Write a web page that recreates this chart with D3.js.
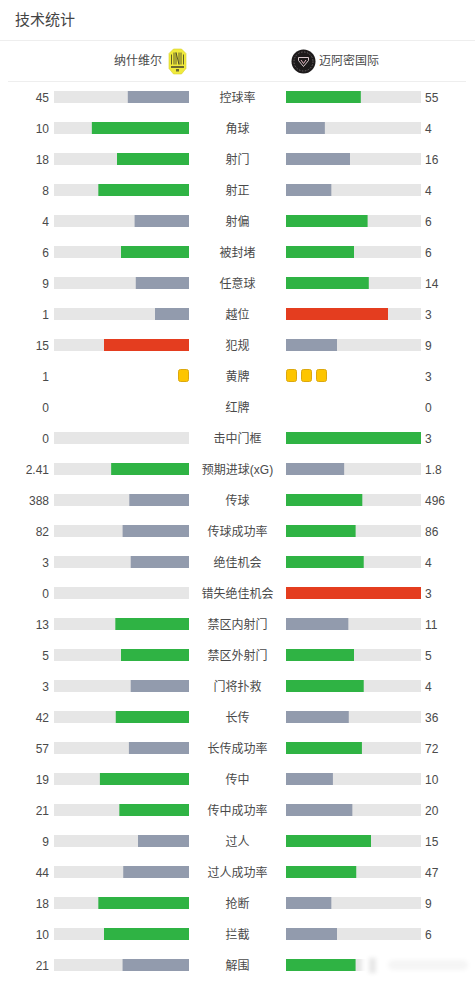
<!DOCTYPE html>
<html><head><meta charset="utf-8">
<script src="https://cdn.jsdelivr.net/npm/d3@7/dist/d3.min.js"></script>
<style>
html,body{margin:0;padding:0;background:#fff;overflow:hidden}
text{font-family:"Liberation Sans","Noto Sans CJK SC",sans-serif}
</style></head><body>
<svg id="c" width="475" height="981"></svg>
<script>
const title = "技术统计";
const homeName = "纳什维尔";
const awayName = "迈阿密国际";
const categories = ["控球率","角球","射门","射正","射偏","被封堵","任意球","越位","犯规","黄牌","红牌","击中门框","预期进球(xG)","传球","传球成功率","绝佳机会","错失绝佳机会","禁区内射门","禁区外射门","门将扑救","长传","长传成功率","传中","传中成功率","过人","过人成功率","抢断","拦截","解围"];
const homeValues = [45,10,18,8,4,6,9,1,15,1,0,0,2.41,388,82,3,0,13,5,3,42,57,19,21,9,44,18,10,21];
const awayValues = [55,4,16,4,6,6,14,3,9,3,0,3,1.8,496,86,4,3,11,5,4,36,72,10,20,15,47,9,6,22];
const negativeStats = ["越位","犯规","错失绝佳机会"];
const cardStats = ["黄牌","红牌"];

const svg = d3.select("#c");
const GREEN="#2fb344", GREY="#929bad", RED="#e43d1f", TRACK="#e6e6e6", TXT="#4a4a4a";

svg.append("text").attr("x",15).attr("y",25).attr("font-size",15).attr("fill","#444").text(title);
svg.append("line").attr("x1",0).attr("x2",475).attr("y1",40.5).attr("y2",40.5).attr("stroke","#eeeeee");
svg.append("line").attr("x1",8).attr("x2",466).attr("y1",81.5).attr("y2",81.5).attr("stroke","#eeeeee");

svg.append("text").attr("x",162).attr("y",65).attr("text-anchor","end").attr("font-size",12).attr("fill",TXT).text(homeName);
svg.append("text").attr("x",319).attr("y",65).attr("font-size",12).attr("fill",TXT).text(awayName);

// crests
const h = svg.append("g").attr("transform","translate(177.5,61.5)");
h.append("path").attr("d","M-4,-12.5 L4,-12.5 L8.5,-8 L8.5,7 L4,12.5 L-4,12.5 L-8.5,7 L-8.5,-8 Z").attr("fill","#f0ea3c").attr("stroke","#d6d02e").attr("stroke-width",.6);
h.append("path").attr("d","M-6,-7 V3 M-3.5,-9 V3 M-1.5,-9 V3 M1.5,-9 V3 M3.5,-9 V3 M6,-7 V3 M-1.5,-9 L1.5,3").attr("stroke","#3a3a24").attr("stroke-width",.8).attr("fill","none");
h.append("rect").attr("x",-6.5).attr("y",4.5).attr("width",13).attr("height",2).attr("fill","#6a6830");
h.append("rect").attr("x",-1.5).attr("y",7.5).attr("width",3).attr("height",2.5).attr("fill","#6a6830");
const a = svg.append("g").attr("transform","translate(303.5,61.5)");
a.append("circle").attr("r",12).attr("fill","#1d1a1b");
a.append("circle").attr("r",9.5).attr("fill","none").attr("stroke","#6b6466").attr("stroke-width",1).attr("stroke-dasharray","1.5 1.5");
a.append("path").attr("d","M-5,-4 H5 V-1 L0,5 L-5,-1 Z").attr("fill","none").attr("stroke","#d8c8cc").attr("stroke-width",1);
a.append("path").attr("d","M-2.5,-1.5 L0,2 L2.5,-1.5").attr("fill","none").attr("stroke","#e8b8c4").attr("stroke-width",1);

const rowY = d3.scalePoint().domain(categories).range([97,965]);
const share = d3.scaleLinear().domain([0,1]).range([0,136]);
const cardX = d3.scaleLinear().domain([0,1]).range([0,15]);
const leftEnd=189, rightStart=286, trackW=135, barH=12;

categories.forEach((cat,i)=>{
  const v1=homeValues[i], v2=awayValues[i], y=rowY(cat);
  svg.append("text").attr("x",237.5).attr("y",y+4.5).attr("text-anchor","middle").attr("font-size",12).attr("fill",TXT).text(cat);
  svg.append("text").attr("x",49).attr("y",y+4.5).attr("text-anchor","end").attr("font-size",12).attr("fill",TXT).text(v1);
  svg.append("text").attr("x",425).attr("y",y+4.5).attr("font-size",12).attr("fill",TXT).text(v2);
  if(cardStats.includes(cat)){
    d3.range(v1).forEach(k=>svg.append("rect").attr("x",leftEnd-10.5-cardX(k)).attr("y",y-6.5).attr("width",10).attr("height",12).attr("rx",2).attr("fill","#fdc500").attr("stroke","#dca80e").attr("stroke-width",1));
    d3.range(v2).forEach(k=>svg.append("rect").attr("x",rightStart+.5+cardX(k)).attr("y",y-6.5).attr("width",10).attr("height",12).attr("rx",2).attr("fill","#fdc500").attr("stroke","#dca80e").attr("stroke-width",1));
    return;
  }
  svg.append("rect").attr("x",leftEnd-trackW).attr("y",y-6).attr("width",trackW).attr("height",barH).attr("fill",TRACK);
  svg.append("rect").attr("x",rightStart).attr("y",y-6).attr("width",trackW).attr("height",barH).attr("fill",TRACK);
  const tot=v1+v2||1, hot=negativeStats.includes(cat)?RED:GREEN;
  const c1=v1>=v2?hot:GREY, c2=v2>=v1?hot:GREY;
  const w1=Math.min(trackW,share(v1/tot)), w2=Math.min(trackW,share(v2/tot));
  svg.append("rect").attr("x",leftEnd-w1).attr("y",y-6).attr("width",w1).attr("height",barH).attr("fill",c1);
  svg.append("rect").attr("x",rightStart).attr("y",y-6).attr("width",w2).attr("height",barH).attr("fill",c2);
});

// blurred watermark in the lower right corner
const f=svg.append("defs").append("filter").attr("id","b").attr("x","-30%").attr("y","-80%").attr("width","160%").attr("height","260%");
f.append("feGaussianBlur").attr("stdDeviation",2.2);
const wm=svg.append("g").attr("filter","url(#b)");
wm.append("rect").attr("x",362).attr("y",950).attr("width",113).attr("height",30).attr("fill","#fff");
wm.append("rect").attr("x",369).attr("y",958).attr("width",7).attr("height",15).attr("fill","#e6e6e6");
wm.append("rect").attr("x",388).attr("y",960).attr("width",80).attr("height",10).attr("rx",5).attr("fill","#f5f5f5");
</script></body></html>
